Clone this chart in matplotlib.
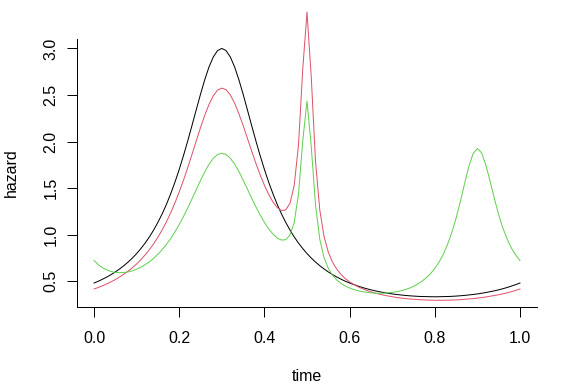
import numpy as np
import matplotlib
matplotlib.use("Agg")
import matplotlib.pyplot as plt

# time grid (0 to 1 by 0.01)
time = np.round(np.arange(101) * 0.01, 2)

# hazard curves
haz_black = [
    0.481, 0.500, 0.522, 0.545, 0.571, 0.600, 0.632, 0.667, 0.706, 0.749,
    0.797, 0.851, 0.910, 0.976, 1.050, 1.133, 1.224, 1.326, 1.440, 1.564,
    1.701, 1.849, 2.007, 2.173, 2.342, 2.509, 2.665, 2.802, 2.908, 2.977,
    3.000, 2.977, 2.908, 2.802, 2.665, 2.509, 2.342, 2.173, 2.007, 1.849,
    1.701, 1.564, 1.440, 1.326, 1.224, 1.133, 1.050, 0.976, 0.910, 0.851,
    0.797, 0.749, 0.706, 0.667, 0.632, 0.600, 0.571, 0.545, 0.522, 0.500,
    0.481, 0.464, 0.448, 0.433, 0.420, 0.408, 0.397, 0.388, 0.379, 0.371,
    0.364, 0.358, 0.353, 0.348, 0.344, 0.341, 0.338, 0.336, 0.335, 0.334,
    0.333, 0.334, 0.335, 0.336, 0.338, 0.341, 0.344, 0.348, 0.353, 0.358,
    0.364, 0.371, 0.379, 0.388, 0.397, 0.408, 0.420, 0.433, 0.448, 0.464,
    0.481,
]
haz_red = [
    0.417, 0.433, 0.452, 0.472, 0.494, 0.518, 0.546, 0.576, 0.609, 0.646,
    0.686, 0.732, 0.783, 0.840, 0.903, 0.973, 1.052, 1.138, 1.236, 1.342,
    1.459, 1.584, 1.720, 1.862, 2.007, 2.150, 2.283, 2.400, 2.492, 2.552,
    2.574, 2.556, 2.501, 2.413, 2.300, 2.173, 2.036, 1.899, 1.766, 1.642,
    1.531, 1.433, 1.352, 1.292, 1.259, 1.266, 1.337, 1.529, 1.961, 2.778,
    3.391, 2.692, 1.788, 1.266, 0.981, 0.813, 0.704, 0.629, 0.572, 0.528,
    0.494, 0.465, 0.440, 0.420, 0.402, 0.387, 0.373, 0.362, 0.351, 0.342,
    0.334, 0.326, 0.320, 0.315, 0.310, 0.307, 0.303, 0.301, 0.298, 0.297,
    0.296, 0.296, 0.296, 0.297, 0.298, 0.300, 0.302, 0.306, 0.310, 0.313,
    0.319, 0.325, 0.331, 0.339, 0.347, 0.355, 0.365, 0.376, 0.388, 0.402,
    0.417,
]
haz_green = [
    0.723, 0.678, 0.645, 0.621, 0.605, 0.595, 0.592, 0.594, 0.600, 0.612,
    0.629, 0.651, 0.678, 0.709, 0.746, 0.790, 0.840, 0.896, 0.959, 1.030,
    1.109, 1.194, 1.287, 1.385, 1.484, 1.583, 1.675, 1.756, 1.820, 1.861,
    1.875, 1.861, 1.821, 1.759, 1.679, 1.587, 1.491, 1.393, 1.299, 1.212,
    1.132, 1.064, 1.007, 0.964, 0.942, 0.946, 0.996, 1.131, 1.434, 2.006,
    2.435, 1.948, 1.316, 0.951, 0.754, 0.638, 0.564, 0.513, 0.476, 0.448,
    0.428, 0.411, 0.398, 0.388, 0.381, 0.376, 0.372, 0.371, 0.372, 0.375,
    0.381, 0.387, 0.397, 0.410, 0.425, 0.445, 0.470, 0.500, 0.537, 0.581,
    0.637, 0.705, 0.790, 0.896, 1.023, 1.176, 1.355, 1.549, 1.733, 1.871,
    1.925, 1.878, 1.747, 1.572, 1.386, 1.216, 1.070, 0.952, 0.856, 0.781,
    0.723,
]

x_ticks = [0.0, 0.2, 0.4, 0.6, 0.8, 1.0]
y_ticks = [0.5, 1.0, 1.5, 2.0, 2.5, 3.0]

plt.rcParams['font.family'] = ['Liberation Sans', 'DejaVu Sans']
plt.rcParams['font.size'] = 16

fig = plt.figure(figsize=(8, 384 / 72), dpi=72)
# plot region in pixels: x 77..537, y 38.5..306.7
ax = fig.add_axes([77 / 576, (384 - 306.7) / 384, 460 / 576, 268.2 / 384])

ax.plot(time, haz_black, color='black', lw=1.0, clip_on=False)
ax.plot(time, haz_red, color='#DF536B', lw=1.0, clip_on=False)
ax.plot(time, haz_green, color='#61D04F', lw=1.0, clip_on=False)

# R style: data range padded by 4%
ax.set_xlim(-0.04, 1.04)
ax.set_ylim(0.2267, 3.1067)

ax.spines['top'].set_visible(False)
ax.spines['right'].set_visible(False)
for s in ['left', 'bottom']:
    ax.spines[s].set_linewidth(1.0)

ax.set_xticks(x_ticks)
ax.set_xticklabels(['%.1f' % v for v in x_ticks])
ax.set_yticks(y_ticks)
ax.set_yticklabels(['%.1f' % v for v in y_ticks], rotation=90, va='center')
ax.tick_params(length=9.6, width=1.0)
ax.tick_params(axis='x', pad=15)
ax.tick_params(axis='y', pad=9)

ax.set_xlabel('time')
ax.set_ylabel('hazard')
ax.xaxis.set_label_coords(0.5, (306.7 - 369) / 268.2)
ax.yaxis.set_label_coords((18.4 - 77) / 460, 0.5)

fig.savefig('out.png', dpi=72)
